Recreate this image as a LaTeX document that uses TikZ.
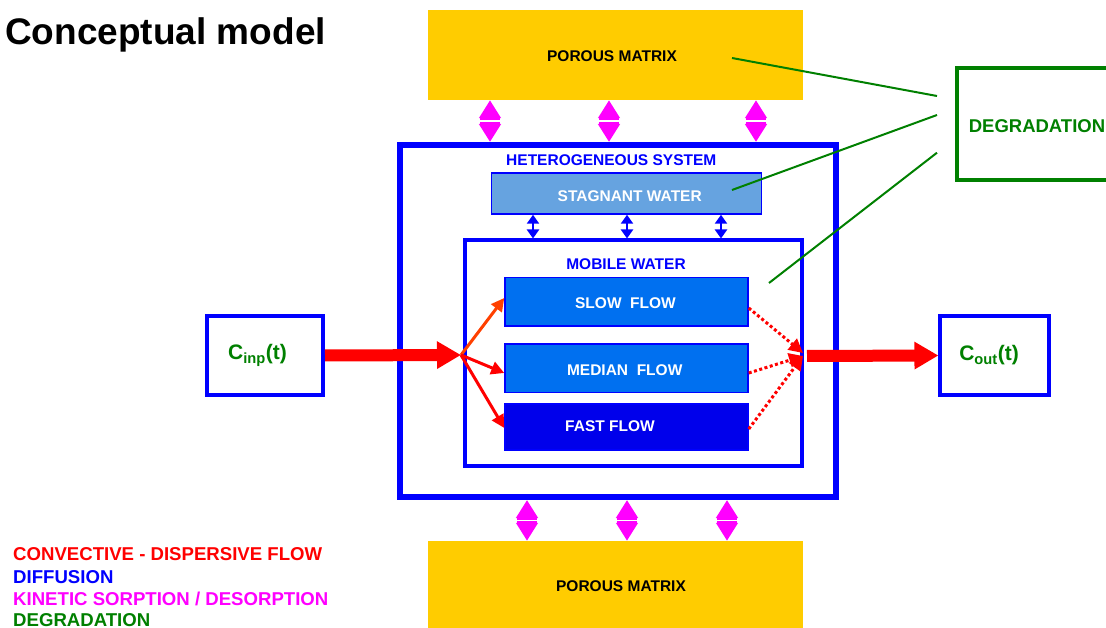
\documentclass[tikz,border=0pt]{standalone}
\usepackage{fontspec}
\setmainfont{Liberation Sans}
\usetikzlibrary{arrows.meta,calc}
\definecolor{cblue}{RGB}{0,0,255}
\definecolor{cyel}{RGB}{255,204,0}
\definecolor{cmag}{RGB}{255,0,255}
\definecolor{cgreen}{RGB}{0,128,0}
\definecolor{cred}{RGB}{255,0,0}
\definecolor{corange}{RGB}{255,64,0}
\definecolor{cstag}{RGB}{102,163,224}
\definecolor{cflow}{RGB}{0,112,240}
\definecolor{cfast}{RGB}{0,0,235}
\tikzset{
  lab/.style={font=\bfseries\fontsize{15.5}{18}\selectfont},
  leg/.style={font=\bfseries\fontsize{18.6}{21}\selectfont, inner sep=0pt, anchor=base west},
  pm/.style={fill=cyel, minimum width=374.5pt, minimum height=90pt, inner sep=0pt},
  flowbox/.style={draw=cblue, line width=1.5pt, fill=cflow, minimum width=243pt, minimum height=48.5pt, inner sep=0pt, lab, text=white},
  iobox/.style={draw=cblue, line width=4pt, inner sep=0pt},
  bigred/.style={draw=cred, line width=12pt, -{Triangle[length=24pt,width=26pt]}},
  branch/.style={draw=cred, line width=3pt, -{Triangle[length=13pt,width=13pt]}},
  dotarrow/.style={draw=cred, line width=3pt, dash pattern=on 3pt off 2.5pt, -{Triangle[length=14pt,width=14pt]}},
  magarr/.style={draw=cmag, line width=20pt, {Triangle[length=18pt,width=21pt]}-{Triangle[length=18pt,width=21pt]}},
  magsep/.style={draw=white, line width=1.3pt},
  bluearr/.style={draw=cblue, line width=2.5pt, {Triangle[length=9pt,width=12pt]}-{Triangle[length=9pt,width=12pt]}},
  gline/.style={draw=cgreen, line width=2pt}
}
\begin{document}
\begin{tikzpicture}[x=1pt,y=-1pt]
\useasboundingbox (0,0) rectangle (1106,628);
\fill[white] (0,0) rectangle (1106,628);
\clip (0,0) rectangle (1106,628);

% title
\node[anchor=base west, inner sep=0pt, font=\bfseries\fontsize{37}{40}\selectfont] (title) at (5,45) {Conceptual model};

% porous matrices
\node[pm, label={[lab, xshift=-3.5pt, yshift=-1pt]center:POROUS MATRIX}] (pmtop) at (615.5,55) {};
\node[pm, label={[lab, xshift=5.5pt]center:POROUS MATRIX}] (pmbot) at (615.5,586) {};

% heterogeneous system
\node[draw=cblue, line width=6pt, minimum width=436pt, minimum height=352pt, inner sep=0pt] (hs) at (618,321) {};
\node[lab, text=cblue, inner sep=0pt] (hslab) at (611.3,160.5) {HETEROGENEOUS SYSTEM};

% stagnant water
\node[draw=cblue, line width=1.5pt, fill=cstag, minimum width=270pt, minimum height=41pt, inner sep=0pt,
      label={[lab, text=white, xshift=3pt, yshift=-2.5pt]center:STAGNANT WATER}] (stag) at (626.7,193.5) {};

% mobile water
\node[draw=cblue, line width=4pt, minimum width=337pt, minimum height=225pt, inner sep=0pt] (mob) at (633.5,353) {};
\node[lab, text=cblue, inner sep=0pt] (moblab) at (626,264) {MOBILE WATER};

% flows
\node[flowbox, label={[lab, text=white, xshift=-1pt, yshift=-1.5pt]center:SLOW\ \ FLOW}] (slow) at (626.5,301.7) {};
\node[flowbox, label={[lab, text=white, xshift=-1.8pt, yshift=-1.4pt]center:MEDIAN\ \ FLOW}] (median) at (626.5,368.3) {};
\node[flowbox, fill=cfast, minimum height=46pt, label={[lab, text=white, xshift=-16.5pt, yshift=0.5pt]center:FAST FLOW}] (fast) at (626.5,427) {};

% input / output
\node[iobox, minimum width=116pt, minimum height=79pt,
      label={[text=cgreen, font=\bfseries\fontsize{21}{24}\selectfont, xshift=-7.5pt]center:C\textsubscript{inp}(t)}] (cin) at (265,355.5) {};
\node[iobox, minimum width=108.5pt, minimum height=79pt,
      label={[text=cgreen, font=\bfseries\fontsize{21}{24}\selectfont, xshift=-5.7pt]center:C\textsubscript{out}(t)}] (cout) at (994.7,355.5) {};

% degradation
\node[draw=cgreen, line width=4pt, minimum width=161pt, minimum height=111.5pt, inner sep=0pt,
      label={[text=cgreen, font=\bfseries\fontsize{18.5}{21}\selectfont, yshift=-2pt]center:DEGRADATION}] (deg) at (1037,124.2) {};

% convective flow arrows
\coordinate (jin) at (461,355);
\coordinate (jout) at (803,356);
\draw[bigred] (cin.east) -- (jin);
\draw[branch, draw=corange] (jin) -- (slow.west |- 0,298);
\draw[branch] (jin) -- (median.west |- 0,373);
\draw[branch] (jin) -- (fast.west |- 0,428);
\draw[dotarrow, draw=cred] (slow.east |- 0,308) -- ($(jout)+(0,-3)$);
\draw[dotarrow] (median.east |- 0,373) -- (jout);
\draw[dotarrow] (fast.east |- 0,429) -- (jout);
\draw[bigred] ($(jout)+(4,0)$) -- (cout.west);

% sorption arrows
\foreach \x in {490,609,756} {
  \draw[magarr] (pmtop.south -| \x,0) coordinate (ma) -- (hs.north -| \x,0) coordinate (mb);
  \draw[magsep] ($(ma)!0.5!(mb)$) ++(-11,0) -- ++(22,0);
}
\foreach \x in {527,627,727} {
  \draw[magarr] (hs.south -| \x,0) coordinate (ma) -- (pmbot.north -| \x,0) coordinate (mb);
  \draw[magsep] ($(ma)!0.5!(mb)$) ++(-11,0) -- ++(22,0);
}

% diffusion arrows
\foreach \x in {533,627,721} {
  \draw[bluearr] (stag.south -| \x,0) -- (mob.north -| \x,0);
}

% degradation lines
\coordinate (d1) at (732,58);
\coordinate (d2) at (732,190);
\coordinate (d3) at (769,283);
\coordinate (g1) at (937,96);
\coordinate (g2) at (937,115);
\coordinate (g3) at (937,152.7);
\draw[gline] (d1) -- (g1);
\draw[gline] (d2) -- (g2);
\draw[gline] (d3) -- (g3);

% legend
\node[leg, text=cred] (leg1) at (13,560) {CONVECTIVE - DISPERSIVE FLOW};
\node[leg, text=cblue] (leg2) at (13,583) {DIFFUSION};
\node[leg, text=cmag] (leg3) at (13,605) {KINETIC SORPTION / DESORPTION};
\node[leg, text=cgreen] (leg4) at (13,626) {DEGRADATION};
\end{tikzpicture}
\end{document}
